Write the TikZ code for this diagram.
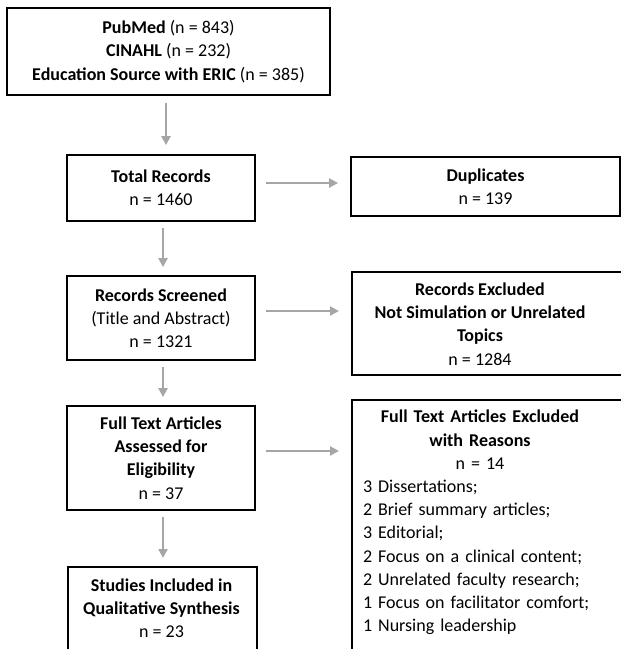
\documentclass[tikz,border=0pt]{standalone}
\usepackage{fontspec}
\setmainfont{Carlito}
\usetikzlibrary{arrows.meta}
\definecolor{arrgray}{HTML}{A6A6A6}
\begin{document}
\begin{tikzpicture}[x=1pt,y=-1pt,
  box/.style={draw=black, line width=1.8pt, inner sep=0pt},
  txt/.style={align=center, font=\fontsize{18}{23.2}\selectfont, inner sep=0pt},
  arr/.style={draw=arrgray, line width=2.4pt, -{Triangle[length=9pt,width=9pt]}},
  vdown/.style={arr, shorten <=6pt, shorten >=8pt},
  hright/.style={arr, shorten <=10pt, shorten >=12pt}]
\useasboundingbox (0,0) rectangle (621,649);
\clip (0,0) rectangle (621,649);

% left column
\node[box, txt, minimum width=323pt, minimum height=87pt] (src) at (168.5,51.5)
  {\textbf{PubMed} (n = 843)\\ \textbf{CINAHL} (n = 232)\\ \textbf{Education Source with ERIC} (n = 385)};
\node[box, txt, minimum width=188pt, minimum height=66pt] (tot) at (161,188)
  {\textbf{Total Records}\\ n = 1460};
\node[box, txt, minimum width=188pt, minimum height=84pt] (scr) at (161,318)
  {\textbf{Records Screened}\\ (Title and Abstract)\\ n = 1321};
\node[box, txt, minimum width=188pt, minimum height=104pt] (fta) at (161,458)
  {\textbf{Full Text Articles}\\ \textbf{Assessed for}\\ \textbf{Eligibility}\\ n = 37};
\node[box, anchor=north west, minimum width=189pt, minimum height=120pt] (inc) at (67,566) {};
\node[txt] (inct) at (161.5,608)
  {\textbf{Studies Included in}\\ \textbf{Qualitative Synthesis}\\ n = 23};

% right column
\node[box, txt, minimum width=269pt, minimum height=59pt] (dup) at (485.5,186.5)
  {\textbf{Duplicates}\\ n = 139};
\node[box, anchor=north west, minimum width=300pt, minimum height=103pt] (rex) at (351,271) {};
\node[txt] (rext) at (480,324)
  {\textbf{Records Excluded}\\ \textbf{Not Simulation or Unrelated}\\ \textbf{Topics}\\ n = 1284};
\node[box, anchor=north west, minimum width=300pt, minimum height=300pt] (fte) at (351,399) {};
\node[txt, align=left, text width=234pt, anchor=north] (ftet) at (480,410)
  {\makebox[234pt][c]{\textbf{Full Text Articles Excluded}}\\
   \makebox[234pt][c]{\textbf{with Reasons}}\\
   \makebox[234pt][c]{n = 14}\\
   3 Dissertations;\\
   2 Brief summary articles;\\
   3 Editorial;\\
   2 Focus on a clinical content;\\
   2 Unrelated faculty research;\\
   1 Focus on facilitator comfort;\\
   1 Nursing leadership};

% vertical arrows
\draw[arr, shorten <=7pt, shorten >=9pt] ([xshift=-2.5pt]src.south) -- ([xshift=-2.5pt]src.south |- tot.north);
\draw[vdown] ([xshift=2pt]tot.south) -- ([xshift=2pt]tot.south |- scr.north);
\draw[vdown] ([xshift=2pt]scr.south) -- ([xshift=2pt]scr.south |- fta.north);
\draw[vdown] ([xshift=2pt]fta.south) -- ([xshift=2pt]fta.south |- inc.north);

% horizontal arrows
\draw[hright] ([yshift=5pt]tot.east) -- ([yshift=5pt]tot.east -| dup.west);
\draw[hright] ([yshift=7pt]scr.east) -- ([yshift=7pt]scr.east -| rex.west);
\draw[hright] ([yshift=7pt]fta.east) -- ([yshift=7pt]fta.east -| fte.west);
\end{tikzpicture}
\end{document}
